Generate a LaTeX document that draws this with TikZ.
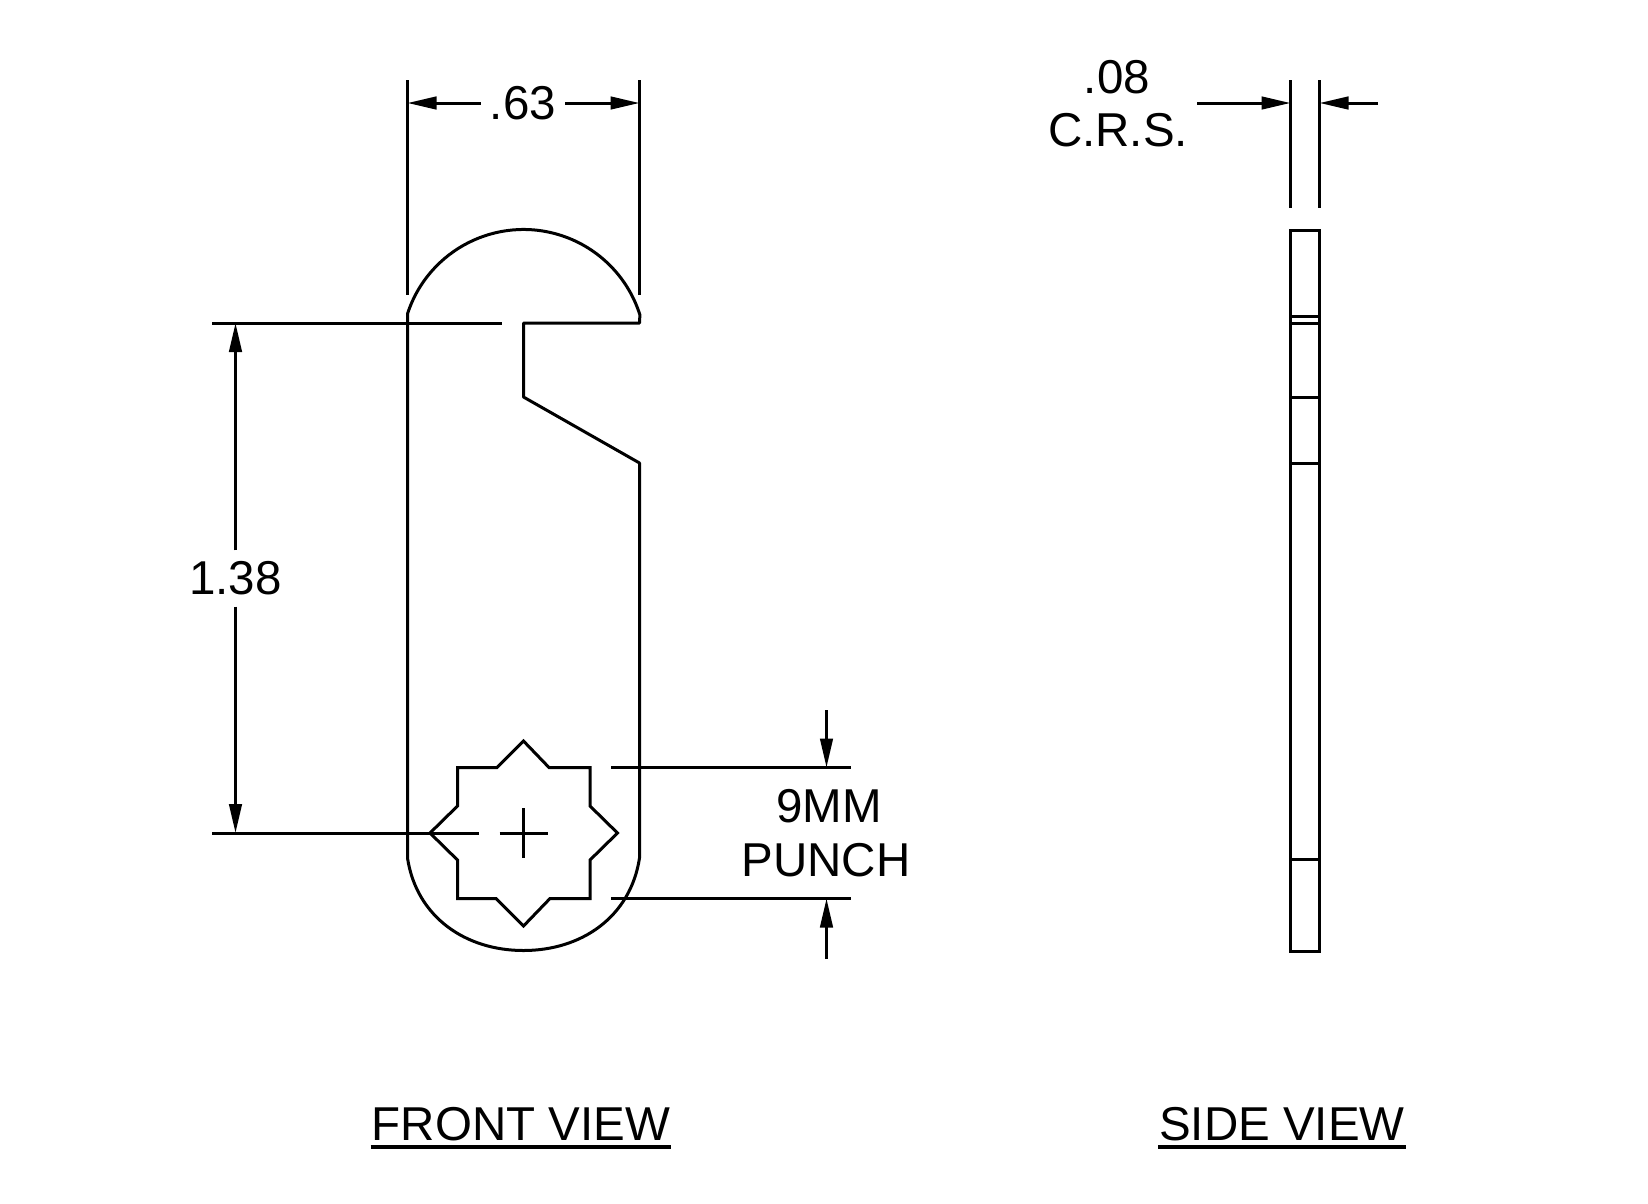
\documentclass[tikz,border=0pt]{standalone}
\usepackage{fontspec}
\setmainfont{Liberation Sans}
\usetikzlibrary{arrows.meta}

\begin{document}
\begin{tikzpicture}[x=1pt,y=-1pt]
\useasboundingbox (0,0) rectangle (1648,1203);

% labels
\begin{scope}[every node/.style={inner xsep=9pt,inner ysep=11pt,font=\fontsize{47.5}{50}\selectfont}]
    \node (W) at (523,103) {.63};
    \node (H) at (235.5,578.5) {1.38};
    \node (T) at (1117,77) {.08};
    \node (M) at (1118,130) {C.R.S.};
    \node (N) at (829,806.5) {9MM};
    \node (P) at (826,860.5) {PUNCH};
    \node[inner xsep=1pt,inner ysep=5.5pt] (FV) at (521,1124.5) {FRONT VIEW};
    \node[inner xsep=1pt,inner ysep=5.5pt] (SV) at (1282,1124.5) {SIDE VIEW};
\end{scope}

% end points of the dimension and leader lines
\coordinate (WL) at (407.5,103);
\coordinate (WR) at (639.5,103);
\coordinate (HT) at (235.5,323);
\coordinate (HB) at (235.5,833);
\coordinate (PT) at (826.5,767.5);
\coordinate (PTa) at (826.5,710);
\coordinate (PB) at (826.5,898.5);
\coordinate (PBa) at (826.5,959);
\coordinate (TL) at (1290.5,103);
\coordinate (TLa) at (1197,103);
\coordinate (TR) at (1319.5,103);
\coordinate (TRa) at (1378,103);

% front view outline
\draw[line width=3pt,line join=round] (407.5,313.8)
    arc[start angle=162,end angle=17.5,radius=122pt]
    -- (639.5,323) -- (523.5,323) -- (523.5,397) -- (639.5,463) -- (639.5,858)
    .. controls (630.5,917) and (581.5,950.5) .. (523.5,950.5)
    .. controls (465.5,950.5) and (416.5,917) .. (407.5,858) -- cycle;

% 9mm punch
\draw[line width=3pt] (523.5,741) -- (549,767.5) -- (590,767.5) -- (590,806)
    -- (617.5,833) -- (590,860) -- (590,898.5) -- (550,898.5) -- (523.5,926)
    -- (496,898.5) -- (457.5,898.5) -- (457.5,860) -- (430,833) -- (457.5,806)
    -- (457.5,767.5) -- (497,767.5) -- cycle;

% side view
\draw[line width=3pt] (1290.5,230) rectangle (1319.5,951);
\foreach \ypos in {316,323.5,397,463,859.5}
    \draw[line width=3pt] (1290.5,\ypos) -- (1319.5,\ypos);

% extension and centre lines
\begin{scope}[every edge/.style={draw,line width=3pt}]
    \path [-] (407.5,80) edge (407.5,295);
    \path [-] (639.5,80) edge (639.5,295);
    \path [-] (212,323) edge (501.5,323);
    \path [-] (212,833) edge (478.5,833);
    \path [-] (499.5,833) edge (547.5,833);
    \path [-] (523.5,808) edge (523.5,858);
    \path [-] (611,767.5) edge (851,767.5);
    \path [-] (611,898.5) edge (851,898.5);
    \path [-] (1290.5,80) edge (1290.5,208);
    \path [-] (1319.5,80) edge (1319.5,208);
    \path [-] (FV.south west) edge[line width=4pt] (FV.south east);
    \path [-] (SV.south west) edge[line width=4pt] (SV.south east);
\end{scope}

% dimension arrows
\begin{scope}[>={Stealth[black,inset=0pt,length=29pt,width=12.5pt]},
              every edge/.style={draw,line width=3pt}]
    \path [->] (W) edge (WL);
    \path [->] (W) edge (WR);
    \path [->] (H) edge (HT);
    \path [->] (H) edge (HB);
    \path [->] (PTa) edge (PT);
    \path [->] (PBa) edge (PB);
    \path [->] (TLa) edge (TL);
    \path [->] (TRa) edge (TR);
\end{scope}
\end{tikzpicture}
\end{document}
